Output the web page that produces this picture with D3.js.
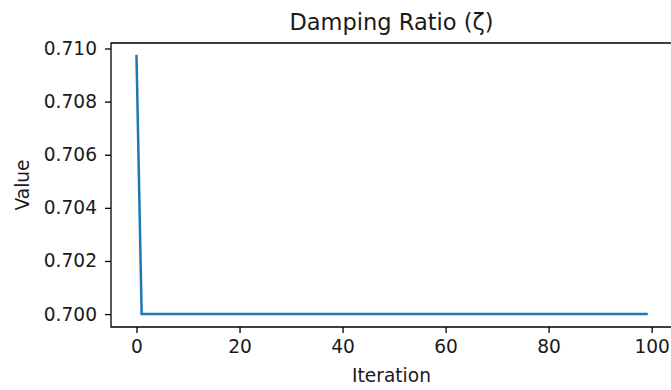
<!DOCTYPE html>
<html>
<head>
<meta charset="utf-8">
<script src="https://cdn.jsdelivr.net/npm/d3@7"></script>
<style>
  body { margin: 0; background: #fff; }
  svg { display: block; font-family: "DejaVu Sans", sans-serif; }
</style>
</head>
<body>
<div id="chart"></div>
<script>
// damping ratio per iteration: first value, then it settles at 0.700
const firstValue = 0.70972;
const settledValue = 0.7;
const iterations = d3.range(100);
const values = iterations.map((i) => (i === 0 ? firstValue : settledValue));

const xTicks = [0, 20, 40, 60, 80, 100];
const yTicks = [0.7, 0.702, 0.704, 0.706, 0.708, 0.71];

const width = 671;
const height = 390;
const margin = { top: 43, right: -1, bottom: 63, left: 111 };

const svg = d3
  .select("#chart")
  .append("svg")
  .attr("width", width)
  .attr("height", height);

// matplotlib-like 5% padding around the data
const xPad = (d3.max(iterations) - d3.min(iterations)) * 0.05;
const yPad = (d3.max(values) - d3.min(values)) * 0.05;

const x = d3
  .scaleLinear()
  .domain([d3.min(iterations) - xPad, d3.max(iterations) + xPad])
  .range([margin.left, width - margin.right]);

const y = d3
  .scaleLinear()
  .domain([d3.min(values) - yPad, d3.max(values) + yPad])
  .range([height - margin.bottom, margin.top]);

const tickSize = 6;

const xAxis = svg
  .append("g")
  .attr("transform", `translate(0, ${height - margin.bottom})`)
  .call(
    d3.axisBottom(x).tickValues(xTicks).tickSize(tickSize).tickPadding(7)
  );

const yAxis = svg
  .append("g")
  .attr("transform", `translate(${margin.left}, 0)`)
  .call(
    d3
      .axisLeft(y)
      .tickValues(yTicks)
      .tickFormat(d3.format(".3f"))
      .tickSize(tickSize)
      .tickPadding(8)
  );

[xAxis, yAxis].forEach((g) => {
  g.select(".domain").remove();
  g.selectAll("line").attr("stroke", "#000").attr("stroke-width", 1.3);
  g.selectAll("text")
    .attr("fill", "#1a1a1a")
    .style("font-size", "18.6px")
    .style("font-family", "DejaVu Sans");
});

// spines: left, top, bottom (right one is outside the window)
const x0 = margin.left;
const x1 = width - margin.right;
const y0 = margin.top;
const y1 = height - margin.bottom;
svg
  .append("path")
  .attr("d", `M${x1},${y0} H${x0} V${y1} H${x1}`)
  .attr("fill", "none")
  .attr("stroke", "#000")
  .attr("stroke-width", 1.3);

const line = d3
  .line()
  .x((d, i) => x(iterations[i]))
  .y((d) => y(d));

svg
  .append("path")
  .datum(values)
  .attr("fill", "none")
  .attr("stroke", "#1f77b4")
  .attr("stroke-width", 2.5)
  .attr("stroke-linecap", "square")
  .attr("d", line);

svg
  .append("text")
  .attr("x", (x0 + x1) / 2)
  .attr("y", 30)
  .attr("text-anchor", "middle")
  .attr("fill", "#1a1a1a")
  .style("font-size", "22.5px")
  .text("Damping Ratio (ζ)");

svg
  .append("text")
  .attr("x", (x0 + x1) / 2)
  .attr("y", 382)
  .attr("text-anchor", "middle")
  .attr("fill", "#1a1a1a")
  .style("font-size", "18.6px")
  .text("Iteration");

svg
  .append("text")
  .attr("transform", `translate(29, ${(y0 + y1) / 2}) rotate(-90)`)
  .attr("text-anchor", "middle")
  .attr("fill", "#1a1a1a")
  .style("font-size", "18.6px")
  .text("Value");
</script>
</body>
</html>
